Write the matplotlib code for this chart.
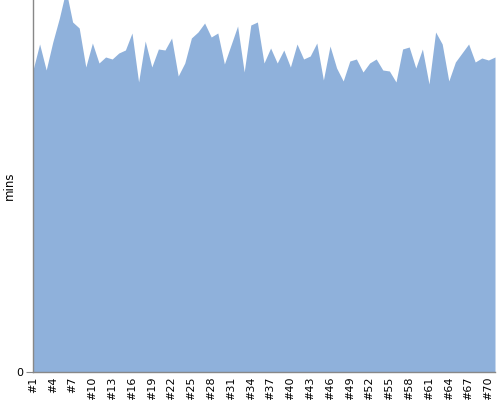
import numpy as np
from matplotlib import pyplot as plt

# minutes per run
runs = [f"#{i}" for i in range(1, 72)]
mins = [30.2, 32.8, 30.2, 33.0, 35.4, 38.2, 35.0, 34.4, 30.5, 32.9,
        30.9, 31.5, 31.3, 31.9, 32.2, 33.9, 29.0, 33.1, 30.5, 32.3,
        32.2, 33.4, 29.6, 30.9, 33.4, 34.0, 34.9, 33.5, 33.9, 30.8,
        32.7, 34.6, 30.0, 34.7, 35.0, 30.9, 32.4, 30.9, 32.2, 30.5,
        32.8, 31.3, 31.6, 32.9, 29.2, 32.6, 30.4, 29.1, 31.1, 31.3,
        30.0, 30.9, 31.3, 30.2, 30.1, 29.0, 32.3, 32.5, 30.4, 32.3,
        28.8, 34.0, 32.8, 29.1, 31.0, 31.9, 32.8, 31.0, 31.4, 31.2,
        31.5]
tick_every = 3

x = np.arange(len(runs))

fig = plt.figure(figsize=(5, 4), dpi=100)
ax = fig.add_axes([0.066, 0.07, 0.924, 0.93])
ax.fill_between(x, mins, 0, color="#8fb1db", linewidth=0)

ax.set_xlim(0, len(runs) - 1)
ax.set_ylim(0, 37.2)
ax.set_yticks([0])
ax.set_xticks(x[::tick_every])
ax.set_xticklabels(runs[::tick_every], rotation=90, fontsize=8)
ax.tick_params(axis="y", labelsize=8, length=5, color="#888888", pad=2)
ax.tick_params(axis="x", length=0, pad=3)
ax.set_ylabel("mins", fontsize=8.5)
ax.yaxis.set_label_coords(-0.038, 0.5)

for side in ["top", "right"]:
    ax.spines[side].set_visible(False)
for side in ["left", "bottom"]:
    ax.spines[side].set_color("#888888")
    ax.spines[side].set_linewidth(1)

fig.savefig("out.png", dpi=100)
